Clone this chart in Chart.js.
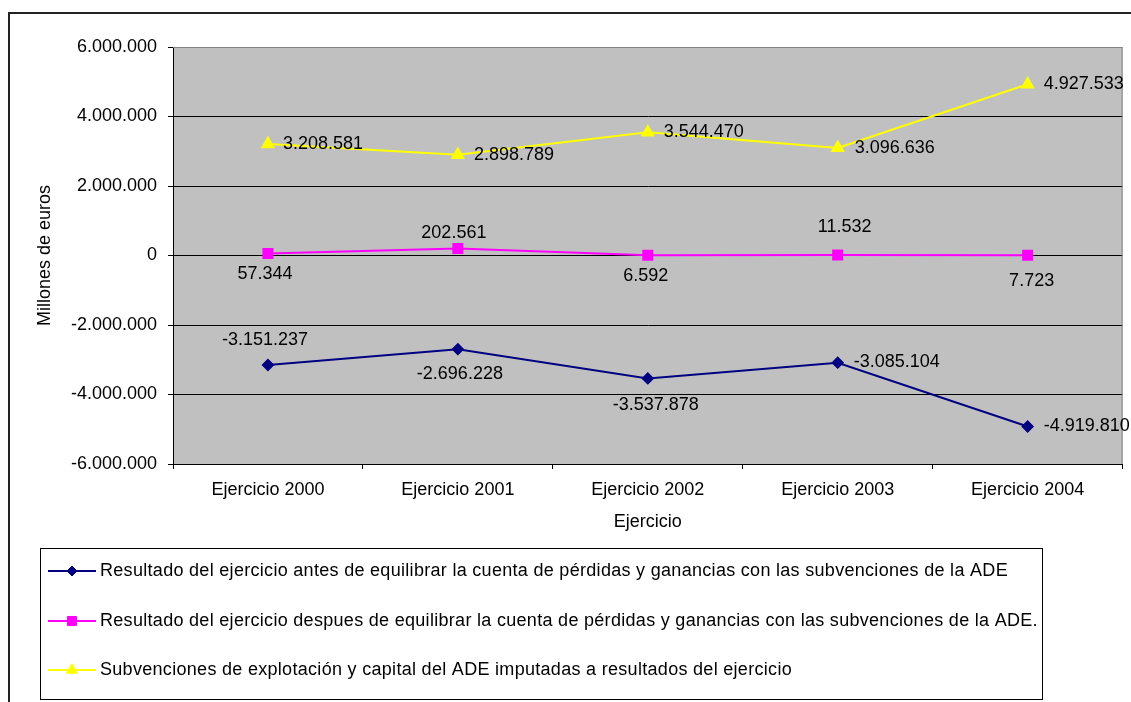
<!DOCTYPE html>
<html>
<head>
<meta charset="utf-8">
<script src="https://cdn.jsdelivr.net/npm/chart.js@4.4.0/dist/chart.umd.min.js"></script>
<style>
  html, body { margin: 0; padding: 0; background: #fff; }
  #wrap { width: 1131px; height: 702px; position: relative; }
</style>
</head>
<body>
<div id="wrap"><canvas id="chart"></canvas></div>
<script>
// datos del gráfico
const categories = ['Ejercicio 2000', 'Ejercicio 2001', 'Ejercicio 2002', 'Ejercicio 2003', 'Ejercicio 2004'];
const resultadoAntes = [-3151237, -2696228, -3537878, -3085104, -4919810];
const resultadoDespues = [57344, 202561, 6592, 11532, 7723];
const subvenciones = [3208581, 2898789, 3544470, 3096636, 4927533];
const yMin = -6000000;
const yMax = 6000000;
const yStep = 2000000;
const seriesNames = [
    'Resultado del ejercicio antes de equilibrar la cuenta de pérdidas y ganancias con las subvenciones de la ADE',
    'Resultado del ejercicio despues de equilibrar la cuenta de pérdidas y ganancias con las subvenciones de la ADE.',
    'Subvenciones de explotación y capital del ADE imputadas a resultados del ejercicio'
];

// colocación de las etiquetas (dx, dy, alineación) por punto
const labelPlacement = [
    [[-3, -25, 'center'], [2, 25, 'center'], [8, 27, 'center'], [16, -1, 'left'], [16, 0, 'left']],
    [[-3, 21, 'center'], [-4, -15, 'center'], [-2, 21, 'center'], [7, -28, 'center'], [4, 26, 'center']],
    [[15, 0, 'left'], [16, 0, 'left'], [16, 0, 'left'], [17, 0, 'left'], [16, 0, 'left']]
];

const FONT = '"Liberation Sans", Arial, sans-serif';

const fmt = v => (v < 0 ? '-' : '') + Math.abs(v).toString().replace(/\B(?=(\d{3})+(?!\d))/g, '.');

const plotBackground = {
    id: 'plotBackground',
    beforeDraw(chart) {
        const { ctx, chartArea: a } = chart;
        ctx.save();
        ctx.fillStyle = '#fff';
        ctx.fillRect(0, 0, chart.width, chart.height);
        // marco exterior del gráfico
        ctx.strokeStyle = '#222';
        ctx.lineWidth = 2;
        ctx.strokeRect(9, 13, chart.width + 20, chart.height + 20);
        ctx.fillStyle = '#c0c0c0';
        ctx.fillRect(a.left, a.top, a.right - a.left, a.bottom - a.top);
        ctx.restore();
    },
    beforeDatasetsDraw(chart) {
        const { ctx, chartArea: a } = chart;
        ctx.save();
        ctx.strokeStyle = '#808080';
        ctx.lineWidth = 1;
        ctx.beginPath();
        ctx.moveTo(a.left, a.top + 0.5);
        ctx.lineTo(a.right - 0.5, a.top + 0.5);
        ctx.lineTo(a.right - 0.5, a.bottom);
        ctx.stroke();
        ctx.restore();
    }
};

const pointLabels = {
    id: 'pointLabels',
    afterDatasetsDraw(chart) {
        const { ctx } = chart;
        ctx.save();
        ctx.font = '18px ' + FONT;
        ctx.fillStyle = '#000';
        ctx.textBaseline = 'middle';
        chart.data.datasets.forEach((ds, di) => {
            const meta = chart.getDatasetMeta(di);
            meta.data.forEach((pt, i) => {
                const [dx, dy, align] = labelPlacement[di][i];
                ctx.textAlign = align;
                ctx.fillText(fmt(ds.data[i]), pt.x + dx, pt.y + dy);
            });
        });
        ctx.restore();
    }
};

const boxLegend = {
    id: 'boxLegend',
    afterDraw(chart) {
        const { ctx } = chart;
        const box = { left: 40.5, top: 548.5, right: 1042.5, bottom: 699.5 };
        const rows = [571, 621, 670];
        ctx.save();
        ctx.strokeStyle = '#000';
        ctx.lineWidth = 1;
        ctx.strokeRect(box.left, box.top, box.right - box.left, box.bottom - box.top);
        chart.data.datasets.forEach((ds, di) => {
            const y = rows[di];
            ctx.strokeStyle = ds.borderColor;
            ctx.lineWidth = 2;
            ctx.beginPath();
            ctx.moveTo(48, y);
            ctx.lineTo(96, y);
            ctx.stroke();
            ctx.fillStyle = ds.pointBackgroundColor;
            ctx.strokeStyle = ds.pointBorderColor;
            ctx.lineWidth = 1;
            Chart.helpers.drawPoint(ctx, {
                pointStyle: ds.pointStyle,
                radius: ds.pointRadius,
                borderWidth: 1
            }, 72, y);
            ctx.font = '18px ' + FONT;
            ctx.letterSpacing = '0.3px';
            ctx.fillStyle = '#000';
            ctx.textBaseline = 'middle';
            ctx.textAlign = 'left';
            ctx.fillText(ds.label, 100, y);
            ctx.letterSpacing = '0px';
        });
        ctx.restore();
    }
};

function makeSeries(label, data, color, style, radius) {
    return {
        label,
        data,
        borderColor: color,
        backgroundColor: color,
        pointBackgroundColor: color,
        pointBorderColor: color,
        pointStyle: style,
        pointRadius: radius,
        pointHoverRadius: radius,
        borderWidth: 2,
        tension: 0
    };
}

Chart.defaults.font.family = FONT;
Chart.defaults.font.size = 18;
Chart.defaults.color = '#000';

new Chart(document.getElementById('chart'), {
    type: 'line',
    data: {
        labels: categories,
        datasets: [
            makeSeries(seriesNames[0], resultadoAntes, '#000080', 'rectRot', 5),
            makeSeries(seriesNames[1], resultadoDespues, '#ff00ff', 'rect', 6.4),
            makeSeries(seriesNames[2], subvenciones, '#ffff00', 'triangle', 6.3)
        ]
    },
    options: {
        responsive: true,
        maintainAspectRatio: false,
        animation: false,
        layout: { padding: { left: 0, top: 47, right: 5, bottom: 158 } },
        plugins: {
            legend: { display: false },
            tooltip: { enabled: false }
        },
        scales: {
            x: {
                offset: true,
                afterFit: s => { s.height = 80; },
                grid: {
                    offset: true,
                    drawOnChartArea: false,
                    tickLength: 5,
                    color: '#000'
                },
                border: { color: '#000', width: 1 },
                ticks: { padding: 10, maxRotation: 0 },
                title: {
                    display: true,
                    text: 'Ejercicio',
                    font: { size: 18 },
                    padding: { top: 0, bottom: 11 }
                }
            },
            y: {
                min: yMin,
                max: yMax,
                afterFit: s => { s.width = 173; },
                ticks: {
                    stepSize: yStep,
                    padding: 11,
                    callback: v => fmt(v)
                },
                grid: {
                    tickLength: 5,
                    color: c => c.tick && c.tick.value === yMax ? '#808080' : '#000',
                    tickColor: '#000',
                    lineWidth: 1
                },
                border: { color: '#000', width: 1 },
                title: {
                    display: true,
                    text: 'Millones de euros',
                    font: { size: 18 },
                    padding: { top: 34, bottom: 0 }
                }
            }
        }
    },
    plugins: [plotBackground, pointLabels, boxLegend]
});
</script>
</body>
</html>
